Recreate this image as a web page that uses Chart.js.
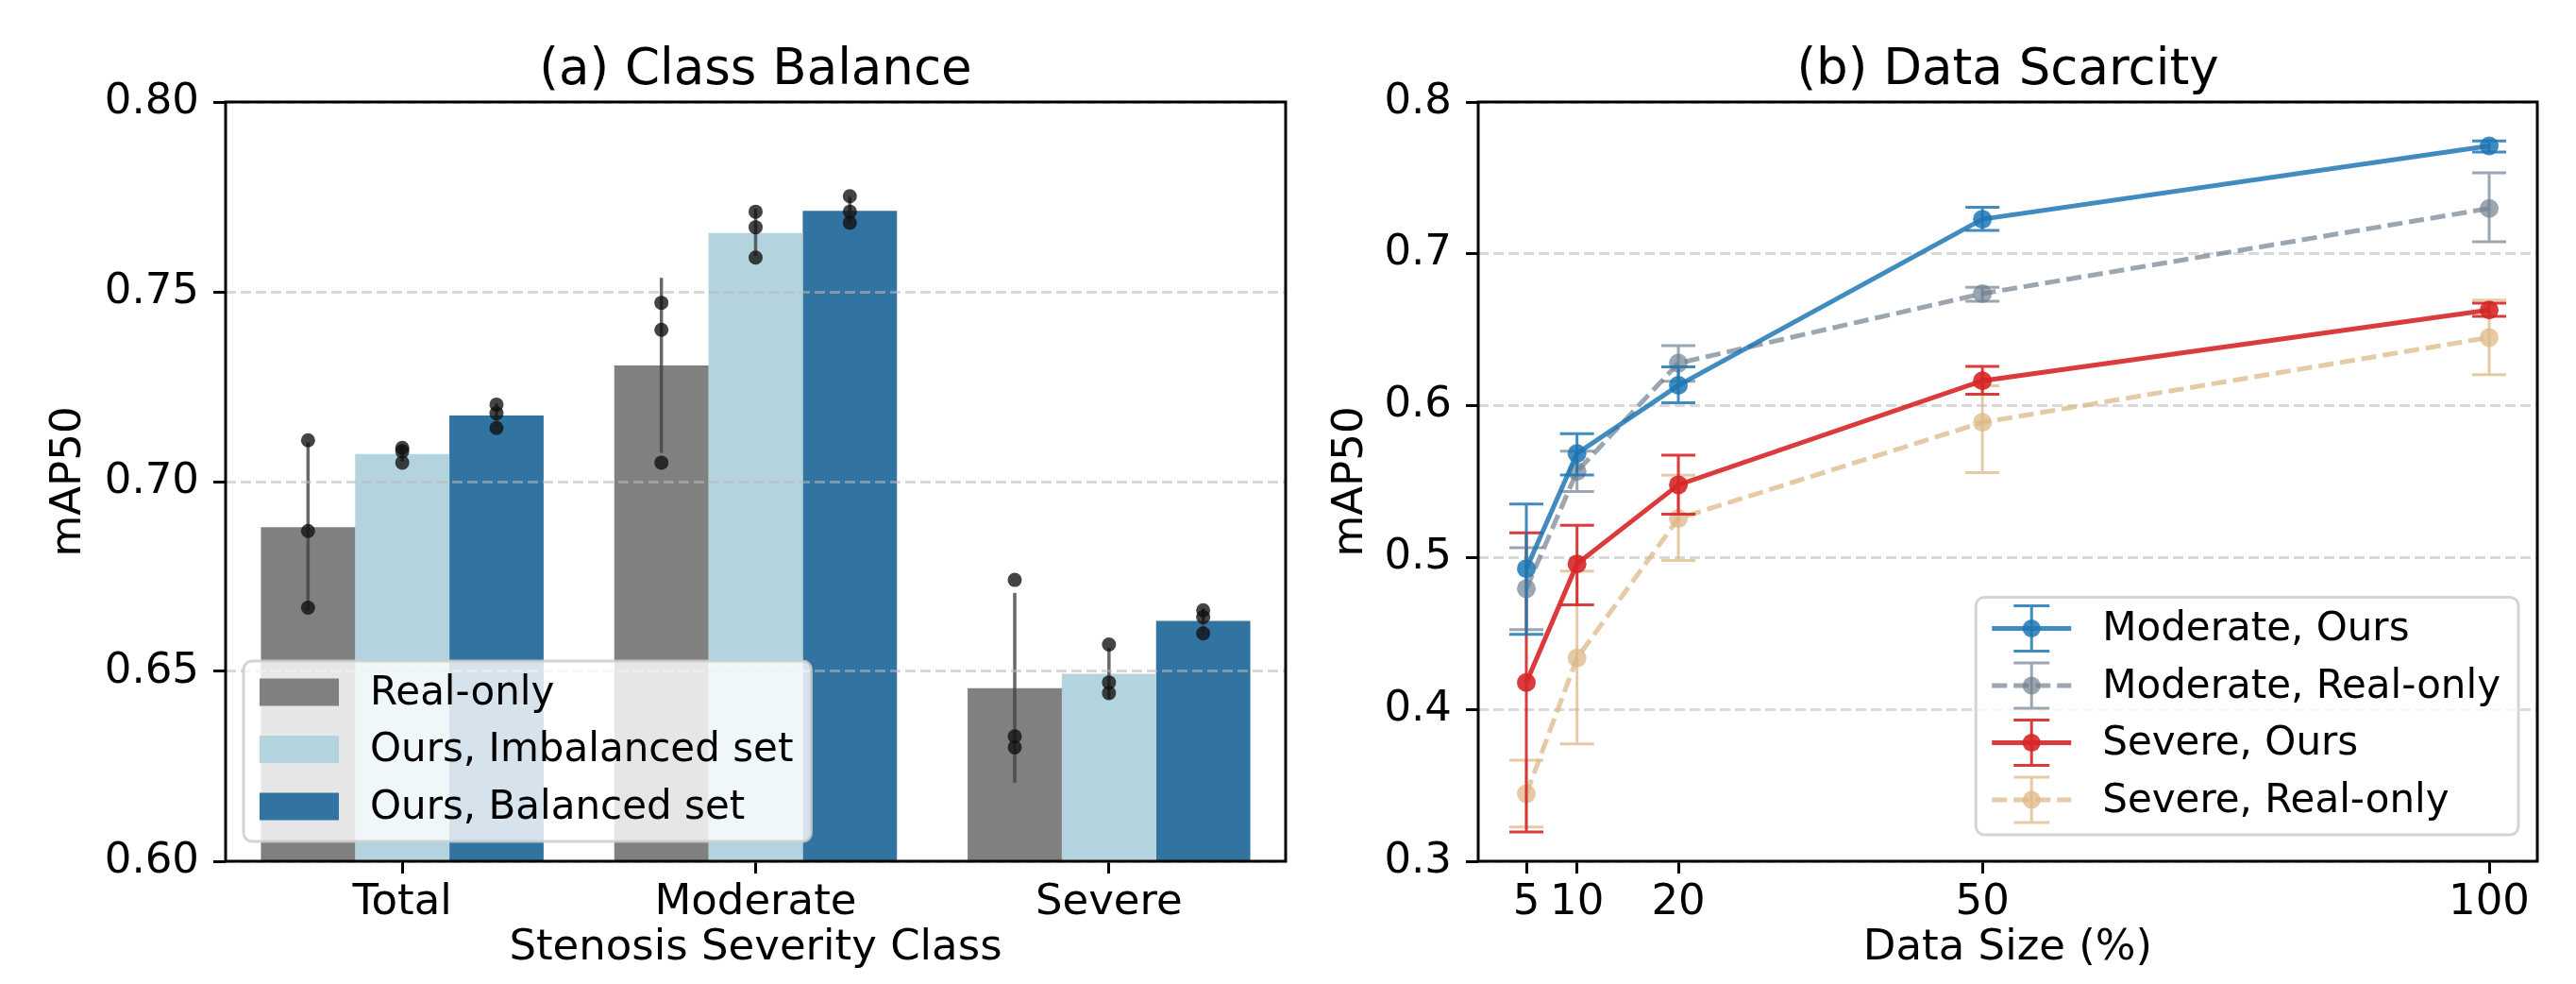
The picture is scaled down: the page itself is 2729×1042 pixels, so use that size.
<!DOCTYPE html>
<html>
<head>
<meta charset="utf-8">
<script src="https://cdn.jsdelivr.net/npm/chart.js@4.4.1/dist/chart.umd.min.js"></script>
<style>
html, body { margin: 0; padding: 0; background: #fff; }
#wrap { position: relative; width: 2729px; height: 1042px; }
canvas { position: absolute; top: 0; }
</style>
</head>
<body>
<div id="wrap">
  <canvas id="balanceChart" width="1400" height="1042" style="left:0;width:1400px;height:1042px"></canvas>
  <canvas id="scarcityChart" width="1329" height="1042" style="left:1400px;width:1329px;height:1042px"></canvas>
</div>
<script>
// ---- (a) Class Balance ----
const classCategories = ["Total", "Moderate", "Severe"];
const barSeriesNames = ["Real-only", "Ours, Imbalanced set", "Ours, Balanced set"];
const realOnlyMeans = [0.6880, 0.7306, 0.6456];
const imbalancedMeans = [0.7073, 0.7655, 0.6494];
const balancedMeans = [0.7174, 0.7713, 0.6633];
// single runs (dots)
const realOnlyRuns = [[0.7109, 0.6870, 0.6668], [0.7471, 0.7400, 0.7050], [0.6741, 0.6329, 0.6300]];
const imbalancedRuns = [[0.7089, 0.7080, 0.7050], [0.7711, 0.7670, 0.7590], [0.6571, 0.6471, 0.6443]];
const balancedRuns = [[0.7203, 0.7180, 0.7141], [0.7752, 0.7711, 0.7682], [0.6661, 0.6643, 0.6600]];
// error bar ends
const realOnlyErrLow = [0.6660, 0.7076, 0.6207];
const realOnlyErrHigh = [0.7103, 0.7537, 0.6707];
const imbalancedErrLow = [0.7053, 0.7595, 0.6428];
const imbalancedErrHigh = [0.7093, 0.7719, 0.6562];
const balancedErrLow = [0.7144, 0.7680, 0.6604];
const balancedErrHigh = [0.7206, 0.7750, 0.6666];
const classYTicks = [0.60, 0.65, 0.70, 0.75, 0.80];

// ---- (b) Data Scarcity ----
const dataSizes = [5, 10, 20, 50, 100];
const lineSeriesNames = ["Moderate, Ours", "Moderate, Real-only", "Severe, Ours", "Severe, Real-only"];
const moderateOurs = [0.4927, 0.5685, 0.6134, 0.7228, 0.7711];
const moderateOursLow = [0.4494, 0.5544, 0.6019, 0.7154, 0.7670];
const moderateOursHigh = [0.5353, 0.5815, 0.6255, 0.7307, 0.7744];
const moderateReal = [0.4795, 0.5567, 0.6280, 0.6738, 0.7299];
const moderateRealLow = [0.4525, 0.5434, 0.6160, 0.6688, 0.7080];
const moderateRealHigh = [0.5065, 0.5701, 0.6395, 0.6779, 0.7534];
const severeOurs = [0.4177, 0.4958, 0.5479, 0.6164, 0.6630];
const severeOursLow = [0.3193, 0.4689, 0.5286, 0.6076, 0.6589];
const severeOursHigh = [0.5163, 0.5212, 0.5674, 0.6259, 0.6676];
const severeReal = [0.3444, 0.4338, 0.5257, 0.5890, 0.6449];
const severeRealLow = [0.3226, 0.3773, 0.4980, 0.5559, 0.6205];
const severeRealHigh = [0.3665, 0.4910, 0.5542, 0.6131, 0.6696];
const scarcityYTicks = [0.3, 0.4, 0.5, 0.6, 0.7, 0.8];

const FONT = '"DejaVu Sans", sans-serif';
Chart.defaults.font.family = FONT;
Chart.defaults.color = "#000";
Chart.defaults.animation = false;

function roundRectPath(ctx, x, y, w, h, r) {
    ctx.beginPath();
    ctx.moveTo(x + r, y);
    ctx.arcTo(x + w, y, x + w, y + h, r);
    ctx.arcTo(x + w, y + h, x, y + h, r);
    ctx.arcTo(x, y + h, x, y, r);
    ctx.arcTo(x, y, x + w, y, r);
    ctx.closePath();
}

// legend box in matplotlib style, anchored at a corner of the chart area
function drawLegendBox(chart, names, corner, drawHandle) {
    const ctx = chart.ctx, a = chart.chartArea;
    const fs = 42, padL = 17, handleW = 84, gap = 33, padR = 19;
    const firstRow = 33, pitch = 60.5, lastPad = 37;
    ctx.save();
    ctx.font = fs + "px " + FONT;
    const textW = Math.max(...names.map(n => ctx.measureText(n).width));
    const w = padL + handleW + gap + textW + padR;
    const h = firstRow + pitch * (names.length - 1) + lastPad;
    const x0 = corner === "left" ? a.left + 19 : a.right - 20 - w;
    const y0 = a.bottom - (corner === "left" ? 21 : 28) - h;
    roundRectPath(ctx, x0, y0, w, h, 9);
    ctx.fillStyle = "rgba(255,255,255,0.8)";
    ctx.fill();
    ctx.lineWidth = 3;
    ctx.strokeStyle = "rgba(204,204,204,0.85)";
    ctx.stroke();
    names.forEach((n, k) => {
        const cy = y0 + firstRow + pitch * k;
        drawHandle(ctx, k, x0 + padL, cy, handleW);
        ctx.fillStyle = "#000";
        ctx.textAlign = "left";
        ctx.textBaseline = "middle";
        ctx.fillText(n, x0 + padL + handleW + gap, cy + 2);
    });
    ctx.restore();
}

const panelFrame = {
    id: "panelFrame",
    afterDraw(chart, args, opts) {
        const { ctx, chartArea: a } = chart;
        ctx.save();
        ctx.strokeStyle = "#000";
        ctx.lineWidth = 3;
        ctx.strokeRect(a.left, a.top, a.right - a.left, a.bottom - a.top);
        ctx.fillStyle = "#000";
        ctx.font = "53px " + FONT;
        ctx.textAlign = "center";
        ctx.textBaseline = "middle";
        ctx.fillText(opts.text, (a.left + a.right) / 2, 75);
        ctx.restore();
    }
};

// ---------- left chart ----------
const barColors = ["#808080", "#b3d4df", "#3274a1"];
const barMeans = [realOnlyMeans, imbalancedMeans, balancedMeans];
const barRuns = [realOnlyRuns, imbalancedRuns, balancedRuns];
const barErrLow = [realOnlyErrLow, imbalancedErrLow, balancedErrLow];
const barErrHigh = [realOnlyErrHigh, imbalancedErrHigh, balancedErrHigh];

const stripPlugin = {
    id: "strip",
    afterDatasetsDraw(chart) {
        const ctx = chart.ctx, y = chart.scales.y;
        ctx.save();
        ctx.strokeStyle = "rgba(66,66,66,0.8)";
        ctx.lineWidth = 3.5;
        chart.data.datasets.forEach((ds, k) => {
            chart.getDatasetMeta(k).data.forEach((bar, i) => {
                ctx.beginPath();
                ctx.moveTo(bar.x, y.getPixelForValue(barErrLow[k][i]));
                ctx.lineTo(bar.x, y.getPixelForValue(barErrHigh[k][i]));
                ctx.stroke();
            });
        });
        ctx.fillStyle = "rgba(15,15,15,0.78)";
        chart.data.datasets.forEach((ds, k) => {
            chart.getDatasetMeta(k).data.forEach((bar, i) => {
                barRuns[k][i].forEach(v => {
                    ctx.beginPath();
                    ctx.arc(bar.x, y.getPixelForValue(v), 7.5, 0, Math.PI * 2);
                    ctx.fill();
                });
            });
        });
        ctx.restore();
    }
};

const barLegend = {
    id: "barLegend",
    afterDraw(chart) {
        drawLegendBox(chart, barSeriesNames, "left", (ctx, k, x, cy, w) => {
            ctx.fillStyle = barColors[k];
            ctx.fillRect(x, cy - 14.5, w, 29);
        });
    }
};

new Chart(document.getElementById("balanceChart"), {
    type: "bar",
    data: {
        labels: classCategories,
        datasets: barSeriesNames.map((name, k) => ({
            label: name,
            data: barMeans[k],
            backgroundColor: barColors[k],
            borderWidth: 0,
            categoryPercentage: 0.8,
            barPercentage: 1.0
        }))
    },
    options: {
        responsive: false,
        events: [],
        layout: { padding: { top: 108, right: 38, left: 0, bottom: 0 } },
        plugins: {
            legend: { display: false },
            tooltip: { enabled: false },
            panelFrame: { text: "(a) Class Balance" }
        },
        scales: {
            x: {
                afterFit: s => { s.height = 130; },
                grid: { offset: false, drawOnChartArea: false, tickLength: 13, tickWidth: 3, tickColor: "#000" },
                border: { display: false },
                ticks: { font: { size: 45 }, padding: 4, maxRotation: 0 },
                title: { display: true, text: "Stenosis Severity Class", font: { size: 45 }, padding: { top: 0, bottom: 11 } }
            },
            y: {
                min: 0.6,
                max: 0.8,
                afterFit: s => { s.width = 239; },
                afterBuildTicks: s => { s.ticks = classYTicks.map(v => ({ value: v })); },
                grid: { color: "rgba(185,185,185,0.55)", lineWidth: 3, tickLength: 13, tickWidth: 3, tickColor: "#000", z: 1 },
                border: { display: false, dash: [11, 5] },
                ticks: { font: { size: 45 }, padding: 15, callback: v => Number(v).toFixed(2) },
                title: { display: true, text: "mAP50", font: { size: 45 }, padding: { top: 46, bottom: 0 } }
            }
        }
    },
    plugins: [stripPlugin, panelFrame, barLegend]
});

// ---------- right chart ----------
const lineSeries = [moderateOurs, moderateReal, severeOurs, severeReal];
const lineLow = [moderateOursLow, moderateRealLow, severeOursLow, severeRealLow];
const lineHigh = [moderateOursHigh, moderateRealHigh, severeOursHigh, severeRealHigh];
const lineColors = ["rgba(31,119,180,0.85)", "rgba(112,128,144,0.7)", "rgba(214,39,40,0.9)", "rgba(222,184,135,0.75)"];
const lineDashed = [false, true, false, true];

function drawErrBar(ctx, x, yTop, yBot, cap) {
    ctx.beginPath();
    ctx.moveTo(x, yTop); ctx.lineTo(x, yBot);
    ctx.moveTo(x - cap, yTop); ctx.lineTo(x + cap, yTop);
    ctx.moveTo(x - cap, yBot); ctx.lineTo(x + cap, yBot);
    ctx.stroke();
}

const errorBarPlugin = {
    id: "errorBars",
    beforeDatasetDraw(chart, args) {
        const k = args.index, ctx = chart.ctx, y = chart.scales.y;
        ctx.save();
        ctx.strokeStyle = lineColors[k];
        ctx.lineWidth = 3;
        args.meta.data.forEach((pt, i) => {
            drawErrBar(ctx, pt.x, y.getPixelForValue(lineHigh[k][i]), y.getPixelForValue(lineLow[k][i]), 18);
        });
        ctx.restore();
    }
};

const lineLegend = {
    id: "lineLegend",
    afterDraw(chart) {
        drawLegendBox(chart, lineSeriesNames, "right", (ctx, k, x, cy, w) => {
            const mx = x + w / 2;
            ctx.strokeStyle = lineColors[k];
            ctx.lineWidth = 3;
            drawErrBar(ctx, mx, cy - 24, cy + 24, 19);
            ctx.lineWidth = 5;
            ctx.setLineDash(lineDashed[k] ? [16, 7] : []);
            ctx.beginPath();
            ctx.moveTo(x, cy); ctx.lineTo(x + w, cy);
            ctx.stroke();
            ctx.setLineDash([]);
            ctx.fillStyle = lineColors[k];
            ctx.beginPath();
            ctx.arc(mx, cy, 9.5, 0, Math.PI * 2);
            ctx.fill();
        });
    }
};

new Chart(document.getElementById("scarcityChart"), {
    type: "line",
    data: {
        datasets: lineSeriesNames.map((name, k) => ({
            label: name,
            data: dataSizes.map((x, i) => ({ x: x, y: lineSeries[k][i] })),
            borderColor: lineColors[k],
            backgroundColor: lineColors[k],
            pointBackgroundColor: lineColors[k],
            pointBorderWidth: 0,
            pointRadius: 10,
            borderWidth: 5,
            borderDash: lineDashed[k] ? [16, 7] : [],
            tension: 0,
            fill: false
        }))
    },
    options: {
        responsive: false,
        events: [],
        layout: { padding: { top: 108, right: 41, left: 0, bottom: 0 } },
        plugins: {
            legend: { display: false },
            tooltip: { enabled: false },
            panelFrame: { text: "(b) Data Scarcity" }
        },
        scales: {
            x: {
                type: "linear",
                min: 0.25,
                max: 104.75,
                afterFit: s => { s.height = 130; },
                afterBuildTicks: s => { s.ticks = dataSizes.map(v => ({ value: v })); },
                grid: { drawOnChartArea: false, tickLength: 13, tickWidth: 3, tickColor: "#000" },
                border: { display: false },
                ticks: { font: { size: 45 }, padding: 4, autoSkip: false, maxRotation: 0, callback: v => String(v) },
                title: { display: true, text: "Data Size (%)", font: { size: 45 }, padding: { top: 0, bottom: 11 } }
            },
            y: {
                min: 0.3,
                max: 0.8,
                afterFit: s => { s.width = 166; },
                afterBuildTicks: s => { s.ticks = scarcityYTicks.map(v => ({ value: v })); },
                grid: { color: "rgba(185,185,185,0.55)", lineWidth: 3, tickLength: 13, tickWidth: 3, tickColor: "#000" },
                border: { display: false, dash: [11, 5] },
                ticks: { font: { size: 45 }, padding: 15, callback: v => Number(v).toFixed(1) },
                title: { display: true, text: "mAP50", font: { size: 45 }, padding: { top: 4, bottom: 0 } }
            }
        }
    },
    plugins: [errorBarPlugin, panelFrame, lineLegend]
});
</script>
</body>
</html>
